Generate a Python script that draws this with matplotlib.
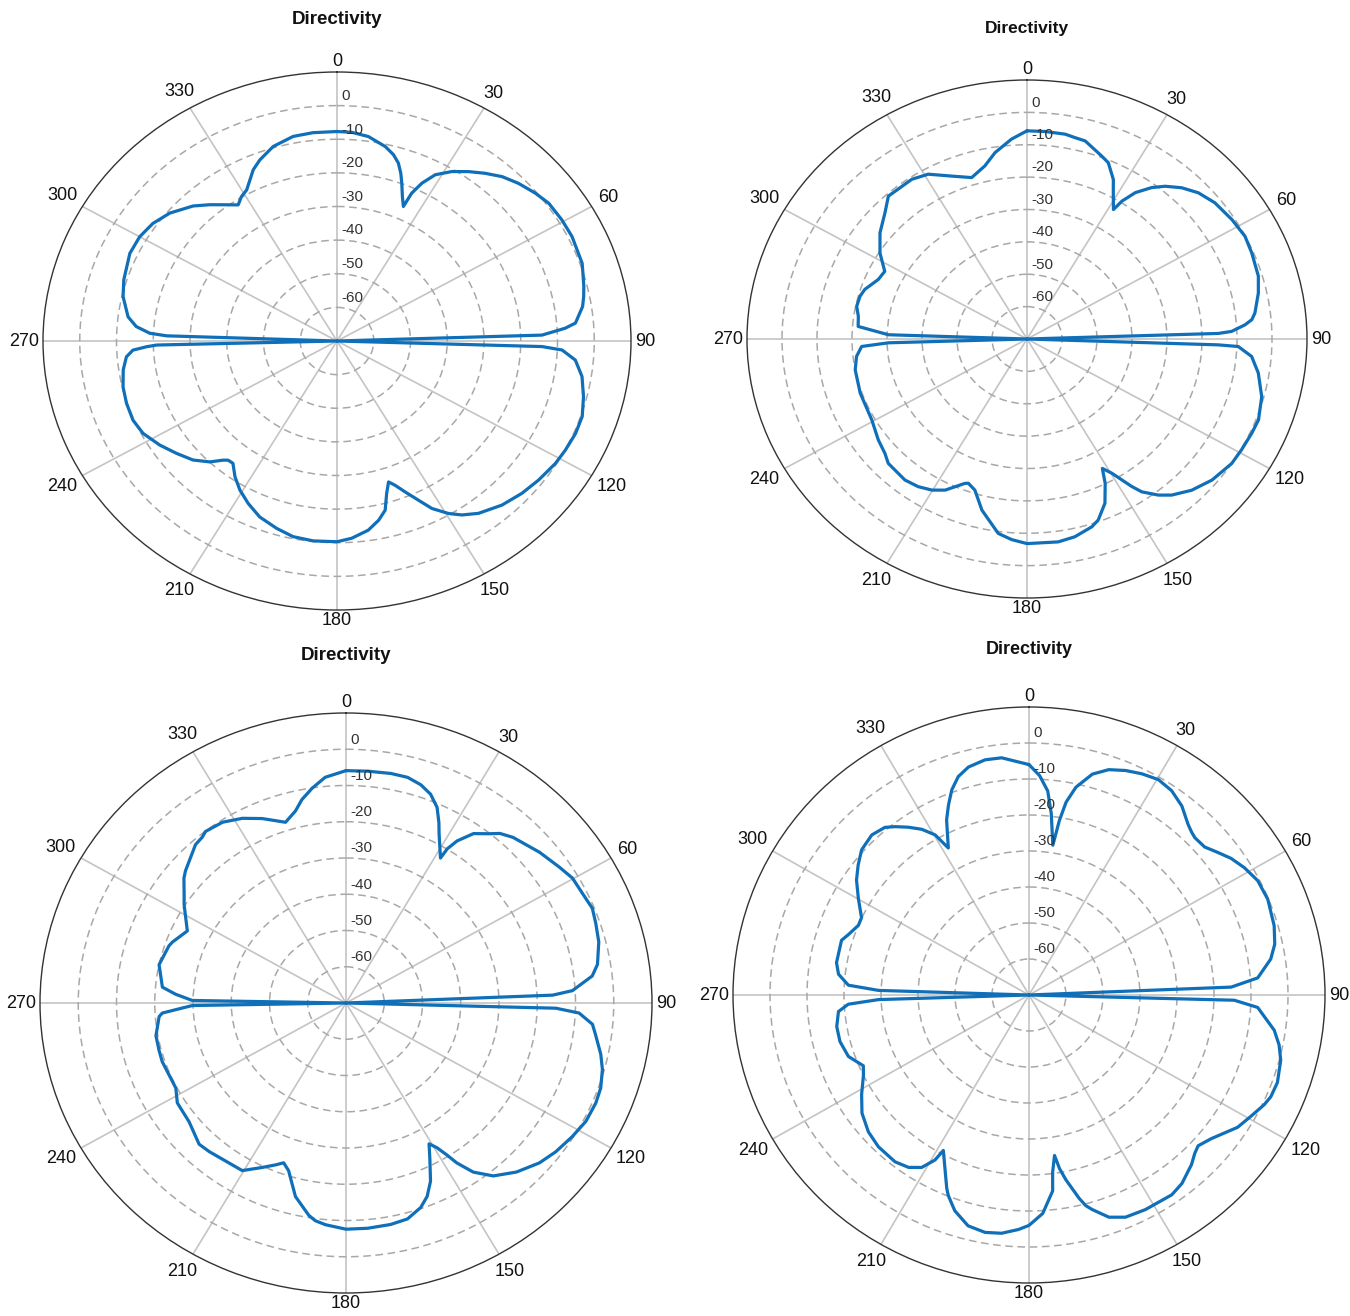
import numpy as np
import matplotlib.pyplot as plt

plt.rcParams['font.family'] = ['Liberation Sans', 'DejaVu Sans']

W, H = 1350, 1316

# 방향성 패턴 (각도 deg, 이득 dB) — 90/270 방향은 -70 dB 널
ang1 = [0, 3.7, 8.0, 12.8, 15.5, 17.5, 19.2, 20.6, 22.5, 24.3, 24.8, 26.2, 28.4, 31.8, 35.4, 38.9,
        42.6, 46.5, 50.8, 54.6, 59.5, 64.1, 70.9, 72.5, 76.4, 78.9, 81.3, 85.3, 86.5, 88.2, 90,
        91.7, 92.5, 95, 99, 103.9, 108.6, 113, 117.6, 121.5, 127, 132, 137.4, 143.1, 146.7, 149.4,
        152.6, 154.9, 157.6, 159.8, 161.5, 163.4, 165.4, 168, 171.4, 176.1, 180,
        186.2, 191.6, 196.4, 201.9, 206.6, 210.8, 214.5, 217.9, 219.9, 221.2, 223.9, 227.9, 232.6,
        237.3, 242.5, 247, 252.1, 256.8, 261.6, 265.3, 267.2, 268.1, 268.6, 270,
        271.9, 272.6, 274.5, 277.2, 282.8, 287.4, 294.8, 300, 304.9, 309.9, 315.7, 319.5, 322.6,
        326.4, 328.8, 331.3, 335.9, 338.7, 343.3, 348.9, 354, 360]
gain1 = [-7.7, -7.8, -8.6, -10.7, -12.5, -14.5, -17.2, -19.9, -23.5, -26.1, -21.6, -17.7, -13.8, -10.7, -8.2, -5.9,
         -3.6, -1.9, -0.4, 0.7, 1.0, 1.1, 0.6, 0.1, -0.9, -1.6, -2.4, -4.9, -7.8, -14.2, -70,
         -14.2, -8.7, -4.9, -2.5, -0.9, 0.4, 0.5, 0.1, -0.3, -1.3, -2.3, -3.7, -5.9, -8.1, -10.4,
         -13.9, -17.7, -21.5, -24.3, -25.8, -22.7, -18.0, -15.5, -13.1, -11.2, -10.3,
         -10.2, -10.6, -11.9, -13.6, -16.0, -18.4, -21.0, -23.9, -23.8, -22.9, -20.1, -17.2, -15.0,
         -12.7, -10.5, -9.7, -9.8, -10.2, -11.2, -12.5, -14.4, -18.1, -20.9, -70,
         -23.6, -19.0, -15.2, -12.7, -10.3, -9.2, -7.9, -8.0, -8.9, -10.7, -13.9, -16.7, -19.0,
         -21.4, -19.8, -18.8, -14.2, -12.2, -9.6, -8.0, -7.7, -7.7]

ang2 = [0, 4.6, 9.8, 12.4, 15.2, 20.7, 23.1, 26.6, 28.6, 31.7, 32.5, 34.4, 37.3, 39.9, 43.4, 47.3,
        51.9, 57.8, 63, 67.5, 73.6, 77.9, 83, 84.7, 86, 87.7, 88.2, 90,
        91.9, 92.2, 94.8, 99, 104.9, 110.7, 114.4, 119.2, 123.3, 129.5, 134.8, 139.4, 142.1, 145.2,
        146.7, 149.7, 151.7, 153.4, 156.3, 160, 162.3, 167.4, 171.9, 180,
        184.1, 187.8, 193.7, 197.7, 200.6, 201.7, 206.6, 210.2, 214.3, 218.7, 225.9, 229, 233.7,
        240.6, 250.7, 259, 263.7, 267.2, 268.3, 270,
        271.9, 274.6, 278.3, 281.7, 285.5, 288.3, 293.4, 297.2, 302.3, 308, 313.9, 318.1, 326.3,
        331, 336.9, 342.4, 347.3, 351, 355.9, 360]
gain2 = [-5.7, -5.7, -5.8, -6.3, -6.6, -9.6, -10.8, -14.9, -18.5, -23.0, -19.5, -15.2, -11.2, -8.5, -5.7, -3.4,
         -1.8, -0.8, -0.1, -0.5, -1.1, -2.4, -4.4, -5.5, -7.6, -11.5, -15.3, -70,
         -15.3, -9.6, -5.6, -3.1, -0.6, 0.7, 0.5, 0.2, 0.0, -1.5, -3.7, -6.5, -8.9, -12.5,
         -15.5, -22.0, -24.6, -20.1, -14.6, -10.5, -9.1, -7.4, -6.7, -6.8,
         -7.9, -9.4, -15.6, -21.0, -22.4, -22.0, -17.8, -16.0, -14.8, -14.2, -14.8, -16.2, -17.3,
         -19.1, -19.5, -20.0, -21.0, -22.7, -30.4, -70,
         -30.4, -21.6, -21.3, -20.3, -20.5, -21.2, -23.7, -24.3, -20.3, -16.7, -13.7, -10.7, -10.7,
         -11.8, -15.3, -17.7, -15.2, -11.7, -8.1, -5.7]

ang3 = [0, 5.1, 10.5, 14.5, 18, 21, 23.8, 26, 27.5, 31.7, 31.9, 33, 35.5, 38.9, 40.7, 43.7, 50.6,
        56.1, 59.8, 65.9, 67.9, 71.4, 75.7, 80.8, 83.4, 86.7, 87.7, 90,
        91.5, 92.6, 95.2, 97.8, 102, 105.3, 109.4, 112.9, 117.5, 121.9, 126.8, 131.1, 136.3, 141.1,
        144.5, 146.7, 147.8, 149.2, 150.8, 153, 155.8, 158.3, 160.9, 164.9, 169.2, 174.8, 180,
        185, 187.6, 189.4, 193.9, 198, 200.3, 202.4, 205.8, 210.4, 221.1, 224.6, 231.4, 238, 242.2,
        251.4, 255, 259.7, 265.6, 266.7, 269, 270,
        271, 273.1, 275.2, 282.2, 288.8, 290.3, 295.6, 302.7, 304.6, 309.1, 311, 318, 320.6, 322.2,
        327.1, 332, 336.7, 342.4, 346, 348.4, 351.5, 355, 360]
gain3 = [-5.9, -5.8, -5.6, -5.7, -6.7, -8.3, -11.0, -14.6, -17.3, -23.0, -19.9, -16.7, -12.6, -10.0, -8.3, -6.8, -4.5,
         -2.8, -1.5, -0.9, -0.5, -1.1, -1.8, -3.4, -5.2, -10.7, -15.9, -70,
         -15.1, -9.0, -5.3, -4.1, -1.9, -0.5, 0.6, 0.9, 0.7, -0.3, -1.5, -2.9, -5.5, -8.7,
         -12.7, -17.2, -20.4, -23.5, -25.5, -21.7, -16.1, -12.6, -10.3, -8.3, -7.8, -7.6, -7.6,
         -8.6, -9.4, -10.6, -15.0, -21.4, -23.0, -21.7, -19.6, -16.4, -15.6, -15.3, -17.5, -18.0, -19.7,
         -19.3, -19.4, -19.5, -21.0, -21.9, -29.8, -70,
         -29.8, -25.4, -21.8, -20.0, -21.1, -21.6, -24.0, -19.7, -18.6, -15.4, -14.4, -11.2, -10.8, -10.1,
         -10.6, -12.3, -14.6, -17.7, -15.4, -12.7, -10.1, -7.5, -5.9]

ang4 = [0, 2.7, 5.1, 6.8, 8.8, 9.6, 10.6, 12.4, 15.6, 19, 22.7, 26.4, 30.3, 34.2, 38.2, 42.2, 44.1,
        45.7, 49.1, 52.2, 55.2, 58.7, 62.8, 67.6, 73.8, 78, 81.3, 85.6, 87.7, 90,
        91.5, 93.2, 98.4, 101.6, 104.9, 109.9, 113.4, 115.6, 119.3, 123.1, 129, 132.5, 134.5, 137,
        141.7, 145.2, 152.2, 157.1, 160.7, 164, 165.3, 166.5, 169, 170.3, 171.2, 172.6, 173.3,
        176.5, 180,
        182.5, 186.4, 190.2, 194.4, 198.5, 201.4, 202.5, 208.2, 209, 211.2, 214.2, 218, 224, 228.8,
        234, 238.6, 243.5, 246.3, 250.7, 255.8, 260.4, 264.9, 267, 268.2, 270,
        271.8, 273.2, 276.4, 279.8, 286.7, 289, 292.8, 295.4, 300.1, 304.4, 308, 311.7, 316.3,
        320.1, 322.3, 325, 327.8, 330.3, 331.9, 335.4, 337.6, 339.9, 342.5, 345.5, 349.7, 353.6,
        359, 360]
gain4 = [-6.0, -9.0, -13.1, -19.2, -27.9, -20.9, -15.5, -10.9, -6.3, -3.8, -2.4, -1.4, -0.7, -1.4, -3.2, -6.0, -6.9,
         -7.4, -7.2, -5.4, -3.5, -1.9, -0.5, -0.2, -1.0, -2.1, -3.9, -8.0, -15.3, -70,
         -14.5, -8.1, -3.0, -1.0, 0.4, 1.4, 1.2, 0.5, -1.2, -2.7, -6.6, -8.0, -7.2, -5.6,
         -3.3, -2.4, -2.6, -3.0, -4.6, -8.0, -9.5, -11.9, -17.7, -21.1, -24.9, -20.4, -15.2,
         -9.2, -6.0,
         -4.8, -3.4, -3.0, -3.8, -6.8, -10.2, -11.9, -21.0, -17.6, -14.0, -12.1, -11.2, -11.4, -12.3,
         -14.2, -17.0, -20.0, -21.1, -18.3, -17.3, -17.3, -18.3, -21.1, -29.3, -70,
         -29.3, -21.1, -18.2, -17.2, -17.1, -18.4, -20.0, -19.9, -16.7, -13.5, -11.4, -9.4, -8.5,
         -9.3, -10.9, -13.1, -15.6, -18.8, -23.7, -16.5, -12.9, -9.3, -6.4, -4.6, -3.6, -3.7,
         -5.7, -6.0]

angle_ticks = list(range(0, 360, 30))
r_ticks = [0, -10, -20, -30, -40, -50, -60]

series = [(ang1, gain1), (ang2, gain2), (ang3, gain3), (ang4, gain4)]

# 패널 배치 (픽셀): 중심 x, 중심 y, 반폭, 반높이, 제목 y, 제목 크기
panels = [
    (337, 341, 294, 269, 19, 13.5),
    (1027, 339, 280, 259, 29, 12.5),
    (346, 1003, 306, 290, 656, 13.5),
    (1029, 995, 296, 288, 649, 13.0),
]

fig = plt.figure(figsize=(W / 100, H / 100), dpi=100)

for (ang, gain), (cx, cy, rx, ry, ty, tsize) in zip(series, panels):
    rect = [(cx - rx) / W, 1 - (cy + ry) / H, 2 * rx / W, 2 * ry / H]
    ax = fig.add_axes(rect, projection='polar')
    ax.set_aspect('auto')
    ax.set_theta_zero_location('N')
    ax.set_theta_direction(-1)
    ax.set_ylim(-70, 10)

    ax.plot(np.deg2rad(ang), gain, color='#0f6fb9', lw=2.3,
            solid_joinstyle='round', solid_capstyle='round', zorder=3)

    ax.set_thetagrids(angle_ticks, [''] * len(angle_ticks))
    ax.set_rticks(r_ticks)
    ax.set_yticklabels([])
    ax.xaxis.grid(True, color='#c4c4c4', lw=1.2, linestyle='-')
    ax.yaxis.grid(True, color='#a8a8a8', lw=1.1, linestyle=(0, (5, 3)))
    ax.spines['polar'].set_color('#333333')
    ax.spines['polar'].set_linewidth(1.0)

    # 각도 라벨: 글자 상자 가장자리가 바깥 원에서 일정 간격 떨어지도록 배치
    for a in angle_ticks:
        t = np.deg2rad(a)
        dx, dy = rx * np.sin(t), ry * np.cos(t)
        n = np.hypot(dx, dy)
        dx, dy = dx / n, dy / n
        half_w = 5.0 * len(str(a))
        dist = 4 + half_w * abs(dx) + 6.5 * abs(dy) + 3 * abs(np.sin(2 * t))
        ax.annotate(str(a), xy=(t, 10), xytext=(dx * dist * 0.72, dy * dist * 0.72),
                    textcoords='offset points', ha='center', va='center',
                    fontsize=13, color='#111111', annotation_clip=False)

    for r in r_ticks:
        ax.annotate(str(r), xy=(0, r), xytext=(3, 7), textcoords='offset points',
                    ha='left', va='center', fontsize=11, color='#333333', zorder=4)

    fig.text(cx / W, 1 - ty / H, 'Directivity', ha='center', va='center',
             fontsize=tsize, fontweight='bold', color='#111111')

fig.savefig('out.png', dpi=100)
